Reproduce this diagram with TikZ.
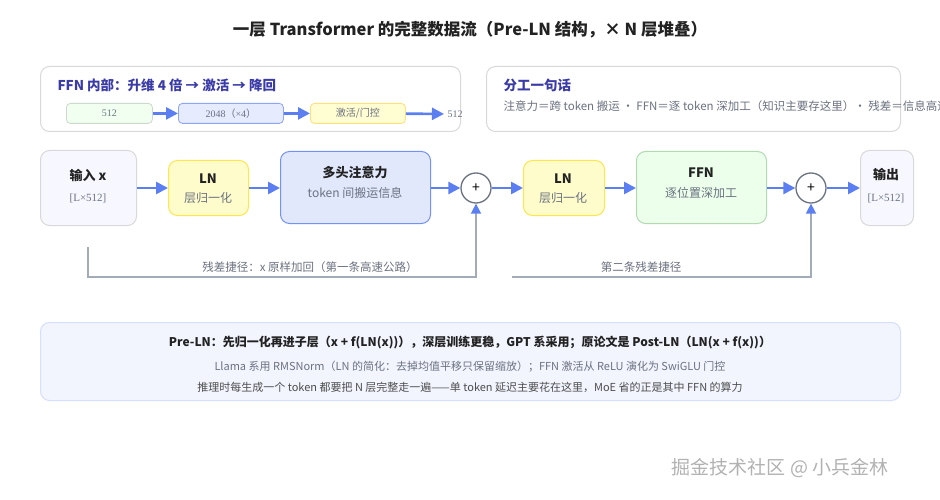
\documentclass[tikz,border=0pt]{standalone}
\usepackage{fontspec}
\setmainfont{Noto Sans CJK SC}
\newfontfamily\serifx{Liberation Serif}
\usetikzlibrary{arrows.meta}
\definecolor{ttl}{HTML}{3B3BA8}
\definecolor{arr}{HTML}{5B7FF0}
\definecolor{gtx}{HTML}{6B7280}
\definecolor{dtx}{HTML}{222222}
\definecolor{res}{HTML}{A3AAB8}
\tikzset{
 x=1pt,y=-1pt,
 box/.style={draw,rounded corners=9pt,line width=1pt},
 sbox/.style={draw,rounded corners=4pt,line width=0.8pt,minimum height=20pt,anchor=north west,font=\serifx\fontsize{10}{12}\selectfont,text=gtx},
 fl/.style={-{Triangle[length=12pt,width=12pt]},draw=arr,line width=2.6pt},
 rl/.style={draw=res,line width=1.6pt,-{Triangle[length=10pt,width=10pt,color=arr]}},
 bt/.style={font=\bfseries\fontsize{13}{15}\selectfont,text=dtx},
 st/.style={font=\fontsize{12}{14}\selectfont,text=gtx},
 add/.style={circle,draw=gtx,line width=1.3pt,fill=white,minimum size=30pt,inner sep=0pt,font=\fontsize{14}{14}\selectfont},
}
\begin{document}
\begin{tikzpicture}
\useasboundingbox[fill=white] (0,0) rectangle (940,500);
\node[font=\bfseries\fontsize{16.5}{18}\selectfont,text=dtx] (title) at (470,30) {一层 Transformer 的完整数据流（Pre-LN 结构，× N 层堆叠）};
% FFN inner box
\node[box,draw=black!15,minimum width=420pt,minimum height=65pt,anchor=north west] (ffnbox) at (40,66) {};
\node[anchor=west,font=\bfseries\fontsize{13.5}{15}\selectfont,text=ttl] (ffnt) at (54,85) {FFN 内部：升维 4 倍 → 激活 → 降回};
\node[sbox,draw=green!25!black!20,fill=green!6,minimum width=86pt] (s1) at (66,103) {512};
\node[sbox,draw=arr!70,fill=arr!15,minimum width=105pt] (s2) at (178,103) {{\serifx 2048}{\fontspec{Noto Sans CJK SC}（}{\serifx ×4}{\fontspec{Noto Sans CJK SC}）}};
\node[sbox,draw=yellow!60!orange!50,fill=yellow!18,minimum width=95pt,font=\fontsize{10}{12}\selectfont] (s3) at (310,103) {激活/门控};
\node[font=\serifx\fontsize{10}{12}\selectfont,text=gtx] (s4) at (455,114) {512};
\draw[fl] (s1) -- (s2);
\draw[fl] (s2) -- (s3);
\draw[fl] (s3) -- (s4);
% summary box
\node[box,draw=black!15,minimum width=414pt,minimum height=65pt,anchor=north west] (sumbox) at (486,66) {};
\node[anchor=west,font=\bfseries\fontsize{13.5}{15}\selectfont,text=ttl] (sumt) at (500,85) {分工一句话};
\node[anchor=west,font=\fontsize{11.5}{13}\selectfont,text=gtx] (sumx) at (500,106) {注意力＝跨 token 搬运 · FFN＝逐 token 深加工（知识主要存这里）· 残差＝信息高速公路};
% main flow
\node[box,draw=black!15,fill=blue!3,minimum width=96pt,minimum height=75pt,anchor=north west] (in) at (40,150) {};
\node[bt] at (88,175) {输入 x};
\node[font=\serifx\fontsize{11}{13}\selectfont,text=gtx] at (88,198) {[L×512]};
\node[box,draw=yellow!80!orange!70,fill=yellow!20,minimum width=80pt,minimum height=55pt,anchor=north west] (ln1) at (168,160) {};
\node[bt] at (208,179) {LN};
\node[st] at (208,198) {层归一化};
\node[box,draw=arr!85,fill=arr!18,minimum width=150pt,minimum height=72pt,anchor=north west] (mha) at (280,151) {};
\node[bt] at (355,173) {多头注意力};
\node[st] at (355,193) {token 间搬运信息};
\node[add] (a1) at (476,188) {+};
\node[box,draw=yellow!80!orange!70,fill=yellow!20,minimum width=81pt,minimum height=55pt,anchor=north west] (ln2) at (523,160) {};
\node[bt] at (563,179) {LN};
\node[st] at (563,198) {层归一化};
\node[box,draw=green!50!black!30,fill=green!8,minimum width=130pt,minimum height=72pt,anchor=north west] (ffn) at (636,151) {};
\node[bt] at (701,173) {FFN};
\node[st] at (701,193) {逐位置深加工};
\node[add] (a2) at (811,188) {+};
\node[box,draw=black!15,fill=blue!3,minimum width=53pt,minimum height=75pt,anchor=north west] (out) at (860,150) {};
\node[bt] at (886,175) {输出};
\node[font=\serifx\fontsize{11}{13}\selectfont,text=gtx] at (886,198) {[L×512]};
\draw[fl] (in.east|-a1) -- (ln1.west|-a1);
\draw[fl] (ln1.east|-a1) -- (mha.west|-a1);
\draw[fl] (mha.east|-a1) -- (a1);
\draw[fl] (a1) -- (ln2.west|-a1);
\draw[fl] (ln2.east|-a1) -- (ffn.west|-a1);
\draw[fl] (ffn.east|-a1) -- (a2);
\draw[fl] (a2) -- (out.west|-a1);
% residuals
\coordinate (r1s) at (88,247);
\coordinate (r2s) at (512,277);
\draw[rl] (r1s) |- (476,277) -- (a1.south);
\draw[rl] (r2s) -| (a2.south);
\node[st,font=\fontsize{11.5}{13}\selectfont] (rt1) at (310,267) {残差捷径：x 原样加回（第一条高速公路）};
\node[st,font=\fontsize{11.5}{13}\selectfont] (rt2) at (641,267) {第二条残差捷径};
% bottom note
\node[box,draw=arr!25,fill=arr!8,minimum width=860pt,minimum height=78pt,anchor=north west] (note) at (40,322) {};
\node[font=\bfseries\fontsize{12}{14}\selectfont,text=dtx] at (470,343) {Pre-LN：先归一化再进子层（x + f(LN(x))），深层训练更稳，GPT 系采用；原论文是 Post-LN（LN(x + f(x))）};
\node[font=\fontsize{11}{13}\selectfont,text=gtx] at (470,367) {Llama 系用 RMSNorm（LN 的简化：去掉均值平移只保留缩放）；FFN 激活从 ReLU 演化为 SwiGLU 门控};
\node[font=\fontsize{11}{13}\selectfont,text=dtx!80] at (470,387) {推理时每生成一个 token 都要把 N 层完整走一遍——单 token 延迟主要花在这里，MoE 省的正是其中 FFN 的算力};
\node[font=\fontsize{19}{21}\selectfont,text=black!30] at (780,468) {掘金技术社区 @ 小兵金林};
\end{tikzpicture}
\end{document}
